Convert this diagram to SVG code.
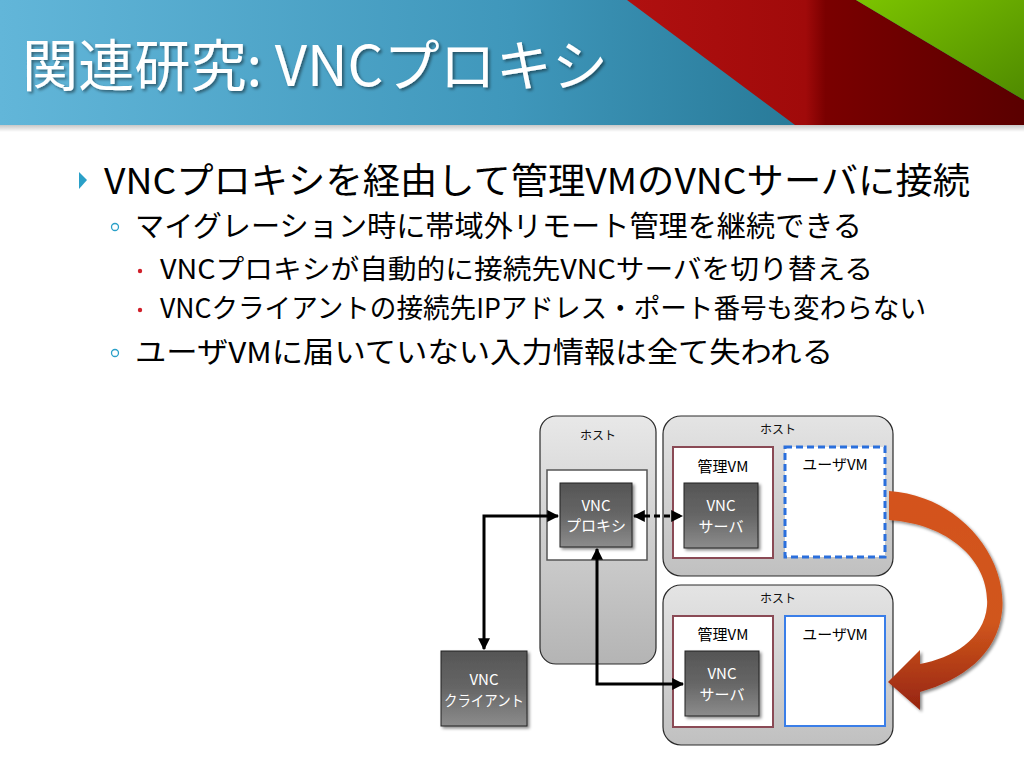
<svg xmlns="http://www.w3.org/2000/svg" width="1024" height="768" viewBox="0 0 1024 768">
<defs>
<linearGradient id="banner" x1="0" y1="0" x2="1" y2="0">
<stop offset="0" stop-color="#62b6d9"/><stop offset="0.5" stop-color="#3f97bb"/><stop offset="1" stop-color="#16637d"/>
</linearGradient>
<linearGradient id="red" x1="0" y1="0" x2="1" y2="0">
<stop offset="0" stop-color="#b01010"/><stop offset="0.45" stop-color="#a00a0a"/><stop offset="0.5" stop-color="#7a0000"/><stop offset="1" stop-color="#5a0000"/>
</linearGradient>
<linearGradient id="green" x1="0" y1="0" x2="1" y2="1">
<stop offset="0" stop-color="#7cc400"/><stop offset="1" stop-color="#4f8a00"/>
</linearGradient>
<linearGradient id="shadowG" x1="0" y1="0" x2="0" y2="1">
<stop offset="0" stop-color="#000" stop-opacity="0.25"/><stop offset="1" stop-color="#000" stop-opacity="0"/>
</linearGradient>
<linearGradient id="host" x1="0" y1="0" x2="0" y2="1">
<stop offset="0" stop-color="#e8e8e8"/><stop offset="1" stop-color="#b4b4b4"/>
</linearGradient>
<linearGradient id="host2" x1="0" y1="0" x2="0" y2="1">
<stop offset="0" stop-color="#e4e4e4"/><stop offset="1" stop-color="#c0c0c0"/>
</linearGradient>
<linearGradient id="box" x1="0" y1="0" x2="0" y2="1">
<stop offset="0" stop-color="#555"/><stop offset="0.5" stop-color="#666"/><stop offset="1" stop-color="#8c8c8c"/>
</linearGradient>
<linearGradient id="orange" x1="0" y1="0" x2="0" y2="1">
<stop offset="0" stop-color="#d4521a"/><stop offset="0.6" stop-color="#d0561c"/><stop offset="1" stop-color="#962410"/>
</linearGradient>
<filter id="ds" x="-20%" y="-20%" width="150%" height="150%">
<feDropShadow dx="2" dy="2" stdDeviation="1.5" flood-color="#000" flood-opacity="0.45"/>
</filter>
<marker id="ah" viewBox="0 0 10 10" refX="9" refY="5" markerWidth="4" markerHeight="4" orient="auto-start-reverse">
<path d="M0,0 L10,5 L0,10 Z" fill="#000"/>
</marker>
<style>
.jp{font-family:"Noto Sans CJK JP","Liberation Sans",sans-serif;}
.host{stroke:#2a2a2a;stroke-width:1.2;}
.hl{font-size:12px;fill:#111;text-anchor:middle;}
.vm{fill:#fff;stroke:#8a4a55;stroke-width:2;}
.vml{font-size:15px;fill:#000;text-anchor:middle;}
.box{fill:url(#box);stroke:#222;stroke-width:1;filter:url(#ds);}
.bt{font-size:15px;fill:#fff;text-anchor:middle;}
.con{fill:none;stroke:#000;stroke-width:3;}
.b1{font-size:36px;fill:#000;}
.b2{font-size:29px;fill:#000;}
.b3{font-size:27px;fill:#000;}
</style>
</defs>
<rect width="1024" height="768" fill="#fff"/>
<rect x="0" y="124" width="1024" height="8" fill="url(#shadowG)"/>
<g id="banner">
<rect x="0" y="0" width="1024" height="125" fill="url(#banner)"/>
<polygon points="627,0 856,0 1024,100 1024,125 795,125" fill="url(#red)"/>
<polygon points="856,0 1024,0 1024,100" fill="url(#green)"/>
<text x="22" y="86" class="jp" font-size="56" fill="#fff" textLength="586" lengthAdjust="spacingAndGlyphs" style="filter:url(#ds)">関連研究: VNCプロキシ</text>
</g>
<g id="bullets" class="jp">
<polygon points="79,172 87,180 79,189" fill="#2aa0c8"/>
<text x="104" y="194" class="b1" textLength="866" lengthAdjust="spacingAndGlyphs">VNCプロキシを経由して管理VMのVNCサーバに接続</text>
<circle cx="115" cy="227" r="3.5" fill="none" stroke="#2aa0c8" stroke-width="1.3"/>
<text x="135" y="237" class="b2" textLength="727" lengthAdjust="spacingAndGlyphs">マイグレーション時に帯域外リモート管理を継続できる</text>
<circle cx="140" cy="271" r="2.2" fill="#d0202a"/>
<text x="160" y="279" class="b3" textLength="713" lengthAdjust="spacingAndGlyphs">VNCプロキシが自動的に接続先VNCサーバを切り替える</text>
<circle cx="140" cy="310" r="2.2" fill="#d0202a"/>
<text x="160" y="318" class="b3" textLength="766" lengthAdjust="spacingAndGlyphs">VNCクライアントの接続先IPアドレス・ポート番号も変わらない</text>
<circle cx="115" cy="353" r="3.5" fill="none" stroke="#2aa0c8" stroke-width="1.3"/>
<text x="135" y="363" class="b2" textLength="698" lengthAdjust="spacingAndGlyphs">ユーザVMに届いていない入力情報は全て失われる</text>
</g>
<g id="host-proxy" class="jp">
<rect x="540" y="416" width="116" height="248" rx="16" fill="url(#host)" class="host"/>
<text x="598" y="440" class="hl">ホスト</text>
<rect x="547" y="470" width="100" height="90" fill="#fff" stroke="#555" stroke-width="1.5"/>
</g>
<g id="vnc-proxy" class="jp">
<rect x="560" y="483" width="72" height="64" class="box"/>
<text x="596" y="511" class="bt">VNC</text>
<text x="596" y="531" class="bt">プロキシ</text>
</g>
<g id="host-top" class="jp">
<rect x="663" y="416" width="230" height="160" rx="18" fill="url(#host2)" class="host"/>
<text x="778" y="434" class="hl">ホスト</text>
<rect x="673" y="447" width="100" height="111" class="vm"/>
<text x="723" y="472" class="vml">管理VM</text>
<rect x="785" y="447" width="100" height="110" fill="#fff" stroke="#2a6fdc" stroke-width="3" stroke-dasharray="7,4"/>
<text x="835" y="470" class="vml">ユーザVM</text>
</g>
<g id="vnc-server-top" class="jp">
<rect x="684" y="483" width="74" height="65" class="box"/>
<text x="721" y="511" class="bt">VNC</text>
<text x="721" y="532" class="bt">サーバ</text>
</g>
<g id="host-bottom" class="jp">
<rect x="663" y="585" width="230" height="160" rx="18" fill="url(#host2)" class="host"/>
<text x="778" y="603" class="hl">ホスト</text>
<rect x="673" y="616" width="100" height="111" class="vm"/>
<text x="723" y="640" class="vml">管理VM</text>
<rect x="785" y="616" width="100" height="110" fill="#fff" stroke="#3a7ee8" stroke-width="2"/>
<text x="835" y="640" class="vml">ユーザVM</text>
</g>
<g id="vnc-server-bottom" class="jp">
<rect x="685" y="651" width="74" height="65" class="box"/>
<text x="722" y="679" class="bt">VNC</text>
<text x="722" y="700" class="bt">サーバ</text>
</g>
<g id="vnc-client" class="jp">
<rect x="441" y="651" width="86" height="75" class="box"/>
<text x="484" y="685" class="bt">VNC</text>
<text x="484" y="706" class="bt" textLength="80" lengthAdjust="spacingAndGlyphs">クライアント</text>
</g>
<g id="connectors">
<path d="M484,649 L484,516 L558,516" class="con" marker-start="url(#ah)" marker-end="url(#ah)"/>
<path d="M634,516 L682,516" class="con" stroke-dasharray="6,4" marker-start="url(#ah)" marker-end="url(#ah)"/>
<path d="M597,549 L597,684 L683,684" class="con" marker-start="url(#ah)" marker-end="url(#ah)"/>
<path d="M889,491 C962,496 1008,560 1002,612 C997,655 962,680 920,692 L920,710 L888,682 L920,650 L920,664 C952,658 984,640 987,606 C990,562 950,524 889,520 Z" fill="url(#orange)" style="filter:url(#ds)"/>
</g>
</svg>
